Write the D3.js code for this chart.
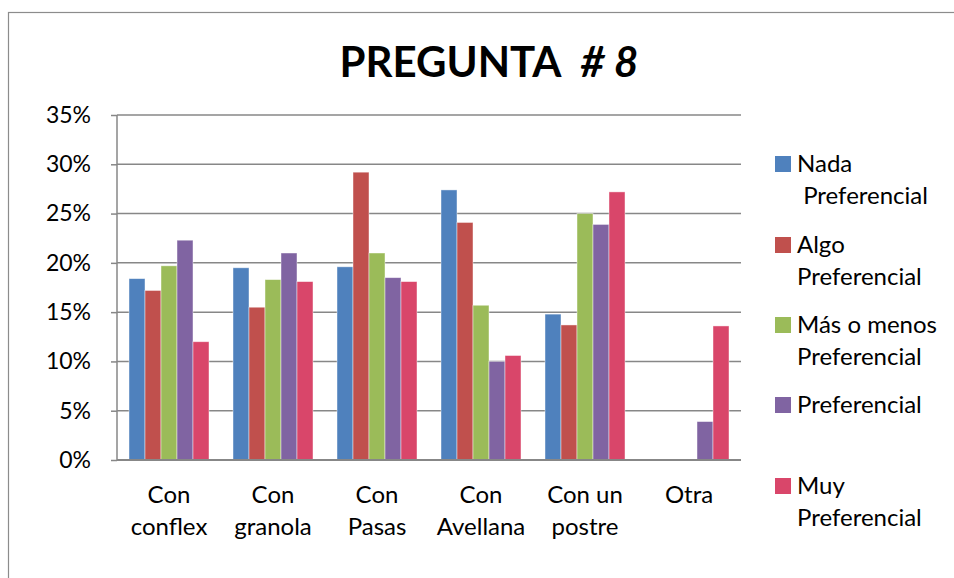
<!DOCTYPE html>
<html>
<head>
<meta charset="utf-8">
<script src="https://cdn.jsdelivr.net/npm/d3@7"></script>
<style>
  html, body { margin: 0; padding: 0; background: #fff; }
  svg { display: block; }
  text { font-family: Lato, "Open Sans", sans-serif; fill: #000; }
</style>
</head>
<body>
<svg id="chart" width="954" height="578"></svg>
<script>
const categories = [["Con", "conflex"], ["Con", "granola"], ["Con", "Pasas"], ["Con", "Avellana"], ["Con un", "postre"], ["Otra"]];
const seriesNames = ["Nada Preferencial", "Algo Preferencial", "Más o menos Preferencial", "Preferencial", "Muy Preferencial"];
const legendLines = [["Nada", " Preferencial"], ["Algo", "Preferencial"], ["Más o menos", "Preferencial"], ["Preferencial"], ["Muy", "Preferencial"]];
const nadaPref   = [0.184, 0.195, 0.196, 0.274, 0.148, 0];
const algoPref   = [0.172, 0.155, 0.292, 0.241, 0.137, 0];
const masMenos   = [0.197, 0.183, 0.210, 0.157, 0.250, 0];
const preferente = [0.223, 0.210, 0.185, 0.100, 0.239, 0.039];
const muyPref    = [0.120, 0.181, 0.181, 0.106, 0.272, 0.136];
const yTicks = [0, 0.05, 0.10, 0.15, 0.20, 0.25, 0.30, 0.35];
const colors = ["#4F81BD", "#C0504D", "#9BBB59", "#8064A2", "#D9466A"];

const values = [nadaPref, algoPref, masMenos, preferente, muyPref];
const svg = d3.select("#chart");

// outer frame
svg.append("rect").attr("x", 8.5).attr("y", 12.5).attr("width", 960).attr("height", 600)
  .attr("fill", "none").attr("stroke", "#8c8c8c").attr("stroke-width", 1.2);

const pLeft = 117, pRight = 741, pTop = 115, pBottom = 460;
const catKeys = categories.map((c, i) => i);
const x0 = d3.scaleBand().domain(catKeys).range([pLeft, pRight]).padding(0);
const x1 = d3.scaleBand().domain(d3.range(seriesNames.length)).range([0, x0.bandwidth()]).paddingInner(0).paddingOuter(0.75);
const y = d3.scaleLinear().domain([0, 0.35]).range([pBottom, pTop]);

// gridlines
svg.append("g").selectAll("line").data(yTicks).join("line")
  .attr("x1", pLeft).attr("x2", pRight)
  .attr("y1", d => y(d)).attr("y2", d => y(d))
  .attr("stroke", "#878787").attr("stroke-width", 1.5);

// y axis
const yAxis = d3.axisLeft(y).tickValues(yTicks).tickFormat(d3.format(".0%")).tickSize(6).tickPadding(20);
const yg = svg.append("g").attr("transform", `translate(${pLeft},0)`).call(yAxis);
yg.select(".domain").attr("stroke", "#878787").attr("stroke-width", 1.5).attr("d", `M0,${pTop}V${pBottom}`);
yg.selectAll(".tick line").attr("stroke", "#878787").attr("stroke-width", 1.5).attr("x1", -6).attr("x2", 0);
yg.selectAll(".tick text").style("font-size", "23px").style("font-family", "Lato, sans-serif").attr("fill", "#000");

// bars
const groups = svg.append("g").selectAll("g").data(catKeys).join("g")
  .attr("transform", d => `translate(${x0(d)},0)`);
groups.selectAll("rect").data(ci => values.map((s, si) => ({si, v: s[ci]})).filter(d => d.v > 0)).join("rect")
  .attr("x", d => x1(d.si)).attr("width", x1.bandwidth())
  .attr("y", d => y(d.v)).attr("height", d => y(0) - y(d.v))
  .attr("fill", d => colors[d.si])
  .attr("stroke", "rgba(255,255,255,0.55)").attr("stroke-width", 0.8);

// x baseline
svg.append("line").attr("x1", pLeft).attr("x2", pRight).attr("y1", pBottom).attr("y2", pBottom)
  .attr("stroke", "#878787").attr("stroke-width", 1.8);

// x axis labels
const xAxis = d3.axisBottom(x0).tickSize(0).tickFormat("");
const xg = svg.append("g").attr("transform", `translate(0,${pBottom})`).call(xAxis);
xg.select(".domain").remove();
xg.selectAll(".tick").each(function(d) {
  const t = d3.select(this).append("text").attr("text-anchor", "middle").style("font-size", "24px");
  categories[d].forEach((line, k) => {
    t.append("tspan").attr("x", 0).attr("y", 43 + k * 32).text(line);
  });
});

// title
const title = svg.append("text").attr("x", 489).attr("y", 77).attr("text-anchor", "middle")
  .style("font-size", "42px").style("font-weight", "bold").style("white-space", "pre");
title.append("tspan").text("PREGUNTA  ");
title.append("tspan").style("font-style", "italic").text("# 8");

// legend
const legendY = [156, 237, 317, 397, 478];
const lg = svg.append("g").selectAll("g").data(seriesNames).join("g")
  .attr("transform", (d, i) => `translate(775,${legendY[i]})`);
lg.append("rect").attr("width", 16).attr("height", 16).attr("fill", (d, i) => colors[i]);
lg.append("text").style("font-size", "24px").style("white-space", "pre")
  .each(function(d, i) {
    const t = d3.select(this);
    legendLines[i].forEach((line, k) => {
      t.append("tspan").attr("x", 22).attr("y", 16 + k * 32).text(line);
    });
  });
</script>
</body>
</html>
